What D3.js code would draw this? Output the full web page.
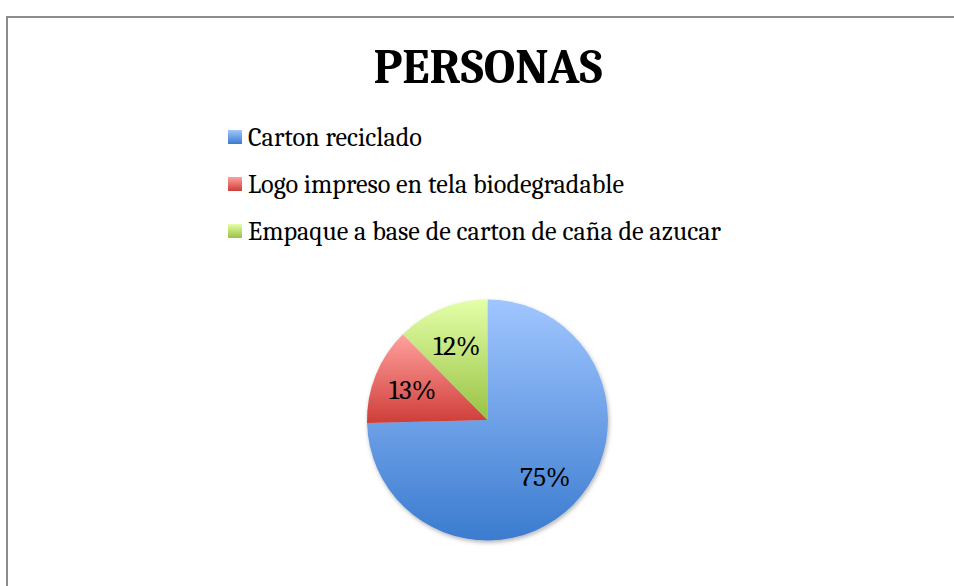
<!DOCTYPE html>
<html>
<head>
<meta charset="utf-8">
<script src="https://cdn.jsdelivr.net/npm/d3@7"></script>
<style>
  html, body { margin: 0; padding: 0; background: #fff; }
  svg { display: block; }
</style>
</head>
<body>
<div id="chart"></div>
<script>
const title = "PERSONAS";
const categories = [
  "Carton reciclado",
  "Logo impreso en tela biodegradable",
  "Empaque a base de carton de caña de azucar",
];
const values = [74.6, 13.0, 12.4];
const colorsTop = ["#a0c6ff", "#ffa19e", "#e4ffa8"];
const colorsBottom = ["#3b7bcf", "#cf3d39", "#98c244"];

const width = 954;
const height = 586;
const serif = "Cambria, 'Liberation Serif', serif";

const svg = d3
  .select("#chart")
  .append("svg")
  .attr("width", width)
  .attr("height", height);

const defs = svg.append("defs");

categories.forEach((c, i) => {
  const grad = defs
    .append("linearGradient")
    .attr("id", "grad" + i)
    .attr("x1", 0)
    .attr("y1", 0)
    .attr("x2", 0)
    .attr("y2", 1);
  grad.append("stop").attr("offset", "0%").attr("stop-color", colorsTop[i]);
  grad.append("stop").attr("offset", "100%").attr("stop-color", colorsBottom[i]);
});

const shadow = defs
  .append("filter")
  .attr("id", "shadow")
  .attr("x", "-20%")
  .attr("y", "-20%")
  .attr("width", "140%")
  .attr("height", "140%");
shadow
  .append("feDropShadow")
  .attr("dx", 1)
  .attr("dy", 2)
  .attr("stdDeviation", 2)
  .attr("flood-color", "#000")
  .attr("flood-opacity", 0.3);

// chart frame
svg
  .append("rect")
  .attr("x", 7)
  .attr("y", 17)
  .attr("width", width + 10)
  .attr("height", height + 10)
  .attr("fill", "#fff")
  .attr("stroke", "#8c8c8c")
  .attr("stroke-width", 2);

svg
  .append("text")
  .attr("x", 488)
  .attr("y", 83)
  .attr("text-anchor", "middle")
  .attr("font-family", serif)
  .attr("font-weight", "bold")
  .attr("font-size", 48)
  .attr("textLength", 229)
  .attr("lengthAdjust", "spacingAndGlyphs")
  .text(title);

// legend
const legend = svg
  .append("g")
  .selectAll("g")
  .data(categories)
  .join("g")
  .attr("transform", (d, i) => `translate(228,${137 + i * 47})`);

legend
  .append("rect")
  .attr("x", 0)
  .attr("y", -7)
  .attr("width", 14)
  .attr("height", 14)
  .attr("fill", (d, i) => `url(#grad${i})`);

legend
  .append("text")
  .attr("x", 20)
  .attr("y", 8.5)
  .attr("font-family", serif)
  .attr("font-size", 26.2)
  .attr("fill", "#000")
  .text((d) => d);

// pie
const cx = 487.5;
const cy = 420;
const r = 120.5;

const pie = d3.pie().sort(null).value((d) => d)(values);
const arc = d3.arc().innerRadius(0).outerRadius(r);
const labelArc = d3.arc().innerRadius(r * 0.67).outerRadius(r * 0.67);
const total = d3.sum(values);

const g = svg.append("g").attr("transform", `translate(${cx},${cy})`);

g.append("g")
  .attr("filter", "url(#shadow)")
  .selectAll("path")
  .data(pie)
  .join("path")
  .attr("d", arc)
  .attr("fill", (d, i) => `url(#grad${i})`);

g.selectAll("text")
  .data(pie)
  .join("text")
  .attr("transform", (d) => `translate(${labelArc.centroid(d)})`)
  .attr("text-anchor", "middle")
  .attr("dy", "0.35em")
  .attr("font-family", serif)
  .attr("font-size", 27.5)
  .attr("fill", "#000")
  .text((d) => Math.round((d.data / total) * 100) + "%");
</script>
</body>
</html>
